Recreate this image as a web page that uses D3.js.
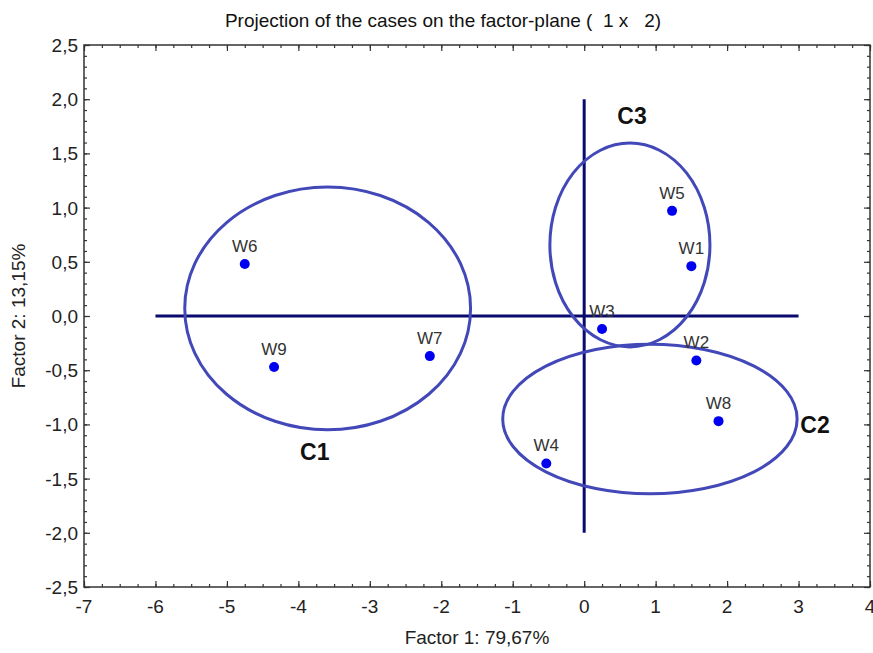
<!DOCTYPE html>
<html>
<head>
<meta charset="utf-8">
<script src="https://cdn.jsdelivr.net/npm/d3@7"></script>
<style>
  body { margin: 0; background: #fff; }
  text { font-family: "Liberation Sans", Arial, sans-serif; }
</style>
</head>
<body>
<div id="container"></div>
<script>
// case coordinates on factor 1 / factor 2
const cases = ['W1', 'W2', 'W3', 'W4', 'W5', 'W6', 'W7', 'W8', 'W9']
const factor1 = [1.50, 1.57, 0.25, -0.53, 1.23, -4.75, -2.16, 1.88, -4.34]
const factor2 = [0.46, -0.41, -0.12, -1.36, 0.97, 0.48, -0.37, -0.97, -0.47]

// cluster ellipses (centre and radii in data units)
const clusters = ['C1', 'C2', 'C3']
const clusterCx = [-3.59, 0.92, 0.64]
const clusterCy = [0.07, -0.95, 0.655]
const clusterRx = [2.0, 2.06, 1.12]
const clusterRy = [1.12, 0.69, 0.94]
const clusterLabelX = [-3.77, 3.23, 0.67]
const clusterLabelY = [-1.33, -1.08, 1.77]

const xTicks = [-7, -6, -5, -4, -3, -2, -1, 0, 1, 2, 3, 4]
const yTicks = [-2.5, -2, -1.5, -1, -0.5, 0, 0.5, 1, 1.5, 2, 2.5]

//svg size
const w = 873
const h = 653
const margin = { top: 45, right: 3, bottom: 66, left: 84 }

const x = d3.scaleLinear().domain([-7, 4]).range([margin.left, w - margin.right])
const y = d3.scaleLinear().domain([-2.5, 2.5]).range([h - margin.bottom, margin.top])

// comma decimals, plain hyphen for minus
const fmt = d => d3.format('.1f')(d).replace('.', ',').replace('\u2212', '-')

const svg = d3.select('#container')
    .append('svg')
    .attr('width', w)
    .attr('height', h)

const axisColor = '#333'

// minor ticks, every 0.25 on x and 0.1 on y, inward on all four sides
const xMinor = d3.range(-7, 4.001, 0.25)
const yMinor = d3.range(-2.5, 2.501, 0.1)

function tickSide(axisFn, scale, values, size) {
    return axisFn(scale).tickValues(values).tickSizeInner(-size).tickSizeOuter(0).tickFormat('')
}

const ticks = svg.append('g').attr('class', 'ticks')

// bottom
ticks.append('g').attr('transform', 'translate(0,' + y(-2.5) + ')')
    .call(tickSide(d3.axisBottom, x, xMinor, 3))
ticks.append('g').attr('transform', 'translate(0,' + y(-2.5) + ')')
    .call(tickSide(d3.axisBottom, x, xTicks, 6))
// top
ticks.append('g').attr('transform', 'translate(0,' + y(2.5) + ')')
    .call(tickSide(d3.axisTop, x, xMinor, 3))
ticks.append('g').attr('transform', 'translate(0,' + y(2.5) + ')')
    .call(tickSide(d3.axisTop, x, xTicks, 6))
// left
ticks.append('g').attr('transform', 'translate(' + x(-7) + ',0)')
    .call(tickSide(d3.axisLeft, y, yMinor, 3))
ticks.append('g').attr('transform', 'translate(' + x(-7) + ',0)')
    .call(tickSide(d3.axisLeft, y, yTicks, 6))
// right
ticks.append('g').attr('transform', 'translate(' + x(4) + ',0)')
    .call(tickSide(d3.axisRight, y, yMinor, 3))
ticks.append('g').attr('transform', 'translate(' + x(4) + ',0)')
    .call(tickSide(d3.axisRight, y, yTicks, 6))

ticks.selectAll('.domain').remove()
ticks.selectAll('line').attr('stroke', axisColor).attr('stroke-width', 1.2)

// frame
svg.append('rect')
    .attr('x', x(-7))
    .attr('y', y(2.5))
    .attr('width', x(4) - x(-7))
    .attr('height', y(-2.5) - y(2.5))
    .attr('fill', 'none')
    .attr('stroke', axisColor)
    .attr('stroke-width', 1.5)

// tick labels
svg.append('g').selectAll('text')
    .data(xTicks)
    .enter()
    .append('text')
    .attr('x', d => x(d))
    .attr('y', y(-2.5) + 26)
    .attr('text-anchor', 'middle')
    .attr('font-size', 19)
    .attr('fill', '#222')
    .text(d => String(d))

svg.append('g').selectAll('text')
    .data(yTicks)
    .enter()
    .append('text')
    .attr('x', x(-7) - 6)
    .attr('y', d => y(d) + 7)
    .attr('text-anchor', 'end')
    .attr('font-size', 19)
    .attr('fill', '#222')
    .text(fmt)

// titles
svg.append('text')
    .attr('x', 443)
    .attr('y', 27)
    .attr('text-anchor', 'middle')
    .attr('font-size', 19)
    .attr('fill', '#111')
    .style('white-space', 'pre')
    .text('Projection of the cases on the factor-plane (  1 x   2)')

svg.append('text')
    .attr('x', (x(-7) + x(4)) / 2)
    .attr('y', 644)
    .attr('text-anchor', 'middle')
    .attr('font-size', 19)
    .attr('fill', '#222')
    .text('Factor 1: 79,67%')

svg.append('text')
    .attr('transform', 'translate(25,' + y(0) + ') rotate(-90)')
    .attr('text-anchor', 'middle')
    .attr('font-size', 19)
    .attr('fill', '#222')
    .text('Factor 2: 13,15%')

// cross lines through the origin
const crossColor = '#0a0a6e'
svg.append('line')
    .attr('x1', x(-6)).attr('x2', x(3))
    .attr('y1', y(0)).attr('y2', y(0))
    .attr('stroke', crossColor)
    .attr('stroke-width', 3)
svg.append('line')
    .attr('x1', x(0)).attr('x2', x(0))
    .attr('y1', y(2)).attr('y2', y(-2))
    .attr('stroke', crossColor)
    .attr('stroke-width', 3)

// cluster ellipses
svg.append('g').selectAll('ellipse')
    .data(clusters)
    .enter()
    .append('ellipse')
    .attr('cx', (d, i) => x(clusterCx[i]))
    .attr('cy', (d, i) => y(clusterCy[i]))
    .attr('rx', (d, i) => x(clusterRx[i]) - x(0))
    .attr('ry', (d, i) => y(0) - y(clusterRy[i]))
    .attr('fill', 'none')
    .attr('stroke', '#4348b8')
    .attr('stroke-width', 3)

svg.append('g').selectAll('text')
    .data(clusters)
    .enter()
    .append('text')
    .attr('x', (d, i) => x(clusterLabelX[i]))
    .attr('y', (d, i) => y(clusterLabelY[i]))
    .attr('text-anchor', 'middle')
    .attr('font-weight', 'bold')
    .attr('font-size', 23)
    .attr('fill', '#111')
    .text(d => d)

// case points
svg.append('g').selectAll('circle')
    .data(cases)
    .enter()
    .append('circle')
    .attr('cx', (d, i) => x(factor1[i]))
    .attr('cy', (d, i) => y(factor2[i]))
    .attr('r', 5)
    .attr('fill', '#0000f0')

svg.append('g').selectAll('text')
    .data(cases)
    .enter()
    .append('text')
    .attr('x', (d, i) => x(factor1[i]))
    .attr('y', (d, i) => y(factor2[i]) - 12)
    .attr('text-anchor', 'middle')
    .attr('font-size', 17)
    .attr('fill', '#333')
    .text(d => d)
</script>
</body>
</html>
